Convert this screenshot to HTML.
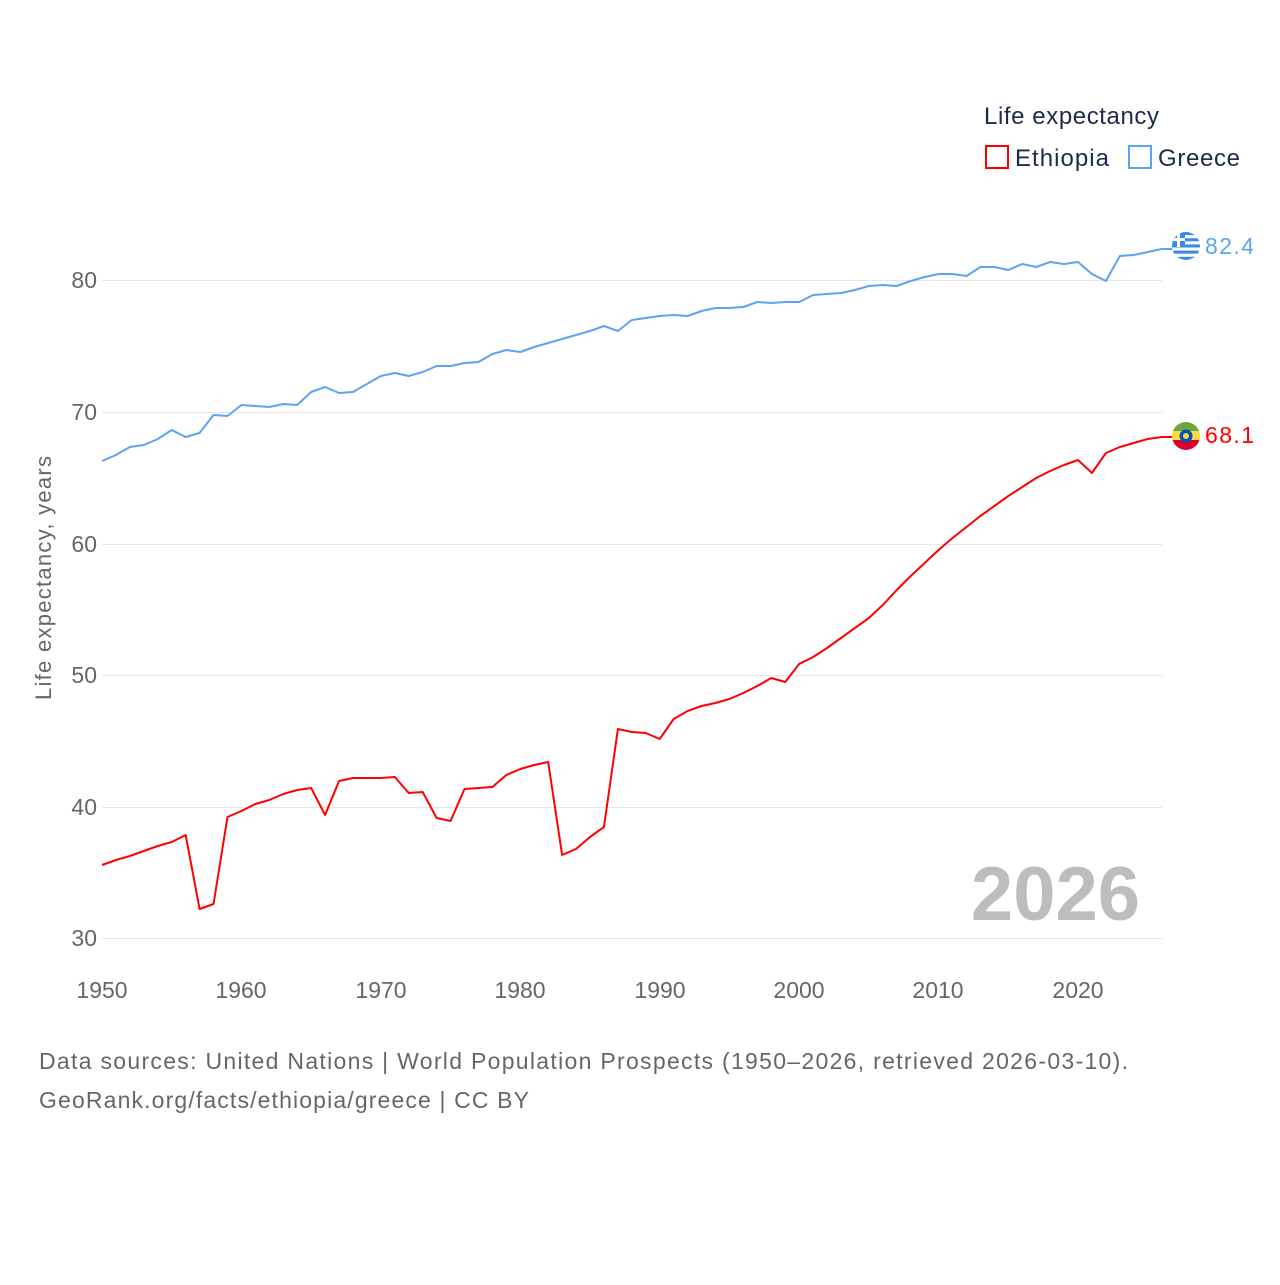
<!DOCTYPE html>
<html><head><meta charset="utf-8"><style>
body{margin:0;background:#fff;width:1280px;height:1280px;overflow:hidden}
svg text{font-family:"Liberation Sans",sans-serif}
</style></head><body>
<svg width="1280" height="1280" viewBox="0 0 1280 1280">
<g stroke="#e6e6e6" stroke-width="1">
<line x1="102" x2="1162" y1="280.5" y2="280.5"/>
<line x1="102" x2="1162" y1="412.5" y2="412.5"/>
<line x1="102" x2="1162" y1="544.5" y2="544.5"/>
<line x1="102" x2="1162" y1="675.5" y2="675.5"/>
<line x1="102" x2="1162" y1="807.5" y2="807.5"/>
<line x1="102" x2="1162" y1="938.5" y2="938.5"/>
</g>
<g fill="#666" font-size="23" text-anchor="end">
<text x="97" y="288">80</text><text x="97" y="420">70</text><text x="97" y="552">60</text>
<text x="97" y="683">50</text><text x="97" y="815">40</text><text x="97" y="946">30</text>
</g>
<g fill="#666" font-size="23" text-anchor="middle">
<text x="102" y="998">1950</text><text x="241" y="998">1960</text><text x="381" y="998">1970</text>
<text x="520" y="998">1980</text><text x="660" y="998">1990</text><text x="799" y="998">2000</text>
<text x="938" y="998">2010</text><text x="1078" y="998">2020</text>
</g>
<text transform="translate(51,578) rotate(-90)" fill="#666" font-size="22" text-anchor="middle" textLength="244">Life expectancy, years</text>
<text x="1140" y="920" fill="#bdbdbd" font-size="76" font-weight="bold" text-anchor="end">2026</text>
<g transform="translate(102,0) scale(13.943,1)" fill="none" stroke-width="2" stroke-linejoin="round">
<polyline vector-effect="non-scaling-stroke" stroke="#5ba4f0" points="0,461 1,455 2,447 3,445 4,439 5,430 6,437 7,433 8,415 9,416 10,405 11,406 12,407 13,404 14,405 15,392 16,387 17,393 18,392 19,384 20,376 21,373 22,376 23,372 24,366 25,366 26,363 27,362 28,354 29,350 30,352 31,347 32,343 33,339 34,335 35,331 36,326 37,331 38,320 39,318 40,316 41,315 42,316 43,311 44,308 45,308 46,307 47,302 48,303 49,302 50,302 51,295 52,294 53,293 54,290 55,286 56,285 57,286 58,281 59,277 60,274 61,274 62,276 63,267 64,267 65,270 66,264 67,267 68,262 69,264 70,262 71,274 72,281 73,256 74,255 75,252 76,249 77.7,249"/>
<polyline vector-effect="non-scaling-stroke" stroke="#ff0000" points="0,865 1,860 2,856 3,851 4,846 5,842 6,835 7,909 8,904 9,817 10,811 11,804 12,800 13,794 14,790 15,788 16,815 17,781 18,778 19,778 20,778 21,777 22,793 23,792 24,818 25,821 26,789 27,788 28,787 29,775 30,769 31,765 32,762 33,855 34,849 35,837 36,827 37,729 38,732 39,733 40,739 41,719 42,711 43,706 44,703 45,699 46,693 47,686 48,678 49,682 50,664 51,657 52,648 53,638 54,628 55,618 56,605 57,590 58,576 59,563 60,550 61,538 62,527 63,516 64,506 65,496 66,487 67,478 68,471 69,465 70,460 71,473 72,453 73,447 74,443 75,439 76,437 77.7,437"/>
</g>
<defs><clipPath id="cg"><circle cx="1186" cy="246" r="14"/></clipPath><clipPath id="ce"><circle cx="1186" cy="436" r="14"/></clipPath></defs>
<g clip-path="url(#cg)">
<rect x="1172" y="232" width="28" height="28" fill="#fff"/>
<rect x="1172" y="232" width="28" height="3.1" fill="#3b8ae6"/>
<rect x="1172" y="238.2" width="28" height="3.1" fill="#3b8ae6"/>
<rect x="1172" y="244.4" width="28" height="3.1" fill="#3b8ae6"/>
<rect x="1172" y="250.6" width="28" height="3.1" fill="#3b8ae6"/>
<rect x="1172" y="256.8" width="28" height="3.2" fill="#3b8ae6"/>
<rect x="1172" y="232" width="13" height="15" fill="#3b8ae6"/>
<rect x="1177" y="232" width="3" height="15" fill="#fff"/>
<rect x="1172" y="238" width="13" height="3" fill="#fff"/>
</g>
<g clip-path="url(#ce)">
<rect x="1172" y="422" width="28" height="10" fill="#6da544"/>
<rect x="1172" y="431" width="28" height="10" fill="#ffda44"/>
<rect x="1172" y="440" width="28" height="10" fill="#d80027"/>
<circle cx="1186" cy="436" r="6.5" fill="#0052b4"/>
<circle cx="1186" cy="436" r="3" fill="#ffda44"/>
</g>
<text x="1205" y="254" fill="#5ba4f0" font-size="23" textLength="49">82.4</text>
<text x="1205" y="443" fill="#ff0000" font-size="23" textLength="49">68.1</text>
<text x="984" y="124" fill="#1a2b4c" font-size="24" textLength="175">Life expectancy</text>
<rect x="986" y="146" width="22" height="22" fill="none" stroke="#ff0000" stroke-width="2"/>
<text x="1015" y="166" fill="#1a2b4c" font-size="24" textLength="94">Ethiopia</text>
<rect x="1129" y="146" width="22" height="22" fill="none" stroke="#5ba4f0" stroke-width="2"/>
<text x="1158" y="166" fill="#1a2b4c" font-size="24" textLength="82">Greece</text>
<text x="39" y="1069" fill="#666" font-size="23" textLength="1089">Data sources: United Nations | World Population Prospects (1950–2026, retrieved 2026-03-10).</text>
<text x="39" y="1108" fill="#666" font-size="23" textLength="490">GeoRank.org/facts/ethiopia/greece | CC BY</text>
</svg>
</body></html>
